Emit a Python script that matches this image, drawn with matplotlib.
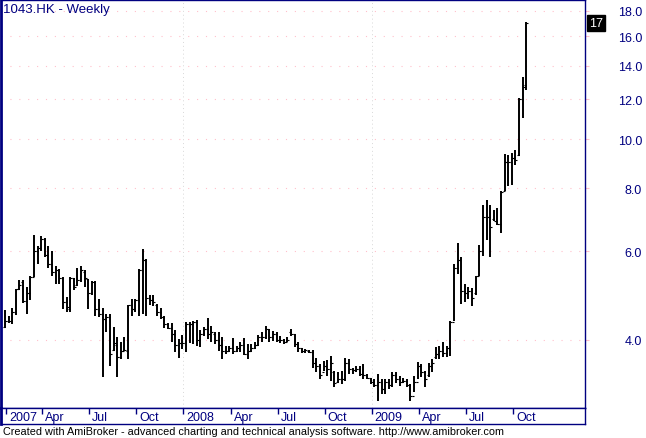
import numpy as np
import pandas as pd
import matplotlib
matplotlib.use("Agg")
import matplotlib.pyplot as plt
import matplotlib.transforms as mtransforms
from matplotlib.ticker import NullLocator

plt.rcParams['font.family'] = ['Liberation Sans', 'DejaVu Sans']

# weekly OHLC for 1043.HK, Jan 2007 - Oct 2009
highs = [4.58, 4.46, 4.63, 5.05, 5.26, 5.26, 5.10, 5.36, 6.45, 6.13,
         6.42, 6.36, 6.13, 6.00, 5.60, 5.54, 5.33, 4.87, 5.33, 5.31,
         5.56, 5.60, 5.50, 5.29, 5.24, 5.24, 4.83, 4.63, 4.51, 4.51,
         4.25, 4.06, 3.96, 4.06, 4.70, 4.83, 4.83, 5.54, 6.05, 5.80,
         4.90, 4.90, 4.72, 4.63, 4.46, 4.33, 4.32, 4.18, 4.02, 4.09,
         4.34, 4.34, 4.36, 4.38, 4.19, 4.25, 4.42, 4.27, 4.15, 4.15,
         4.06, 3.89, 3.89, 4.04, 3.89, 3.96, 4.04, 3.93, 3.93, 3.96,
         4.09, 4.15, 4.27, 4.21, 4.17, 4.15, 4.07, 4.02, 4.06, 4.21,
         4.11, 3.96, 3.86, 3.84, 3.82, 3.82, 3.69, 3.58, 3.63, 3.65,
         3.72, 3.47, 3.45, 3.47, 3.69, 3.67, 3.52, 3.55, 3.55, 3.58,
         3.43, 3.36, 3.34, 3.42, 3.34, 3.34, 3.35, 3.45, 3.45, 3.39,
         3.36, 3.34, 3.27, 3.39, 3.61, 3.58, 3.47, 3.60, 3.67, 3.87,
         3.89, 3.96, 3.89, 4.36, 5.67, 6.24, 5.85, 5.17, 5.10, 5.08,
         5.36, 6.18, 7.40, 7.57, 7.40, 7.24, 7.30, 7.89, 9.35, 9.30,
         9.39, 9.52, 12.10, 13.30, 17.12]
lows = [4.23, 4.33, 4.31, 4.49, 5.03, 4.74, 4.51, 4.79, 5.33, 5.67,
        6.00, 5.83, 5.56, 5.36, 5.17, 5.17, 4.61, 4.55, 4.55, 5.03,
        5.12, 5.22, 5.10, 4.61, 4.90, 4.46, 4.44, 3.37, 4.15, 3.55,
        3.80, 3.37, 3.67, 3.80, 3.67, 4.46, 4.55, 4.46, 4.50, 4.46,
        4.69, 4.67, 4.46, 4.40, 4.23, 4.20, 3.96, 3.78, 3.68, 3.84,
        3.78, 3.95, 3.93, 3.89, 3.87, 4.07, 4.02, 3.96, 3.93, 3.80,
        3.67, 3.75, 3.78, 3.75, 3.78, 3.78, 3.73, 3.67, 3.78, 3.84,
        3.89, 3.96, 4.02, 3.96, 3.98, 3.96, 3.95, 3.93, 3.96, 4.07,
        3.87, 3.78, 3.77, 3.77, 3.77, 3.51, 3.45, 3.34, 3.47, 3.39,
        3.32, 3.22, 3.29, 3.27, 3.32, 3.42, 3.42, 3.45, 3.39, 3.34,
        3.34, 3.27, 3.22, 3.02, 3.12, 3.12, 3.19, 3.22, 3.29, 3.24,
        3.29, 3.22, 3.03, 3.15, 3.34, 3.37, 3.22, 3.37, 3.45, 3.67,
        3.67, 3.70, 3.70, 3.72, 4.36, 5.41, 4.72, 4.76, 4.83, 4.68,
        4.92, 5.36, 5.88, 6.30, 5.85, 6.90, 6.76, 6.51, 7.89, 8.07,
        8.10, 8.88, 9.26, 11.02, 12.54]
opens = [4.24, 4.36, 4.36, 4.55, 5.05, 5.20, 4.78, 4.95, 5.33, 6.00,
         6.10, 6.35, 5.90, 5.65, 5.45, 5.50, 5.30, 4.75, 4.60, 5.30,
         5.15, 5.25, 5.45, 5.29, 4.95, 5.20, 4.60, 4.50, 4.40, 4.45,
         3.82, 3.90, 3.70, 3.80, 3.80, 4.70, 4.60, 4.80, 5.50, 5.75,
         4.85, 4.80, 4.70, 4.55, 4.45, 4.30, 4.22, 4.10, 3.90, 3.95,
         3.95, 4.30, 4.30, 4.35, 4.00, 4.10, 4.20, 4.10, 4.10, 4.00,
         3.90, 3.80, 3.80, 3.85, 3.80, 3.85, 3.90, 3.75, 3.80, 3.85,
         3.90, 4.05, 4.05, 4.20, 4.05, 4.10, 4.00, 4.00, 3.96, 4.15,
         4.10, 3.92, 3.85, 3.80, 3.80, 3.79, 3.60, 3.55, 3.45, 3.55,
         3.50, 3.45, 3.30, 3.35, 3.35, 3.60, 3.50, 3.48, 3.50, 3.42,
         3.40, 3.36, 3.30, 3.25, 3.30, 3.20, 3.30, 3.25, 3.40, 3.35,
         3.30, 3.32, 3.25, 3.10, 3.30, 3.55, 3.45, 3.40, 3.55, 3.70,
         3.75, 3.80, 3.76, 3.85, 4.35, 5.55, 5.75, 5.00, 4.95, 5.00,
         4.95, 5.35, 6.00, 7.00, 7.00, 6.95, 6.90, 6.80, 7.89, 9.00,
         9.00, 9.20, 9.30, 12.00, 12.80]
closes = [4.37, 4.36, 4.55, 5.05, 5.15, 4.78, 4.95, 5.33, 6.00, 6.10,
          6.35, 5.90, 5.65, 5.45, 5.50, 5.30, 4.75, 4.65, 5.30, 5.10,
          5.25, 5.50, 5.30, 4.95, 5.20, 4.60, 4.50, 4.40, 4.45, 3.75,
          3.95, 3.70, 3.80, 3.82, 4.70, 4.60, 4.80, 5.50, 5.75, 4.85,
          4.80, 4.75, 4.55, 4.45, 4.30, 4.22, 4.10, 3.90, 3.95, 3.95,
          4.30, 4.30, 4.35, 4.00, 4.10, 4.20, 4.10, 4.15, 4.00, 3.90,
          3.80, 3.80, 3.85, 3.80, 3.85, 3.90, 3.75, 3.80, 3.85, 3.90,
          4.05, 4.05, 4.20, 4.05, 4.10, 4.00, 4.00, 3.96, 4.00, 4.10,
          3.92, 3.85, 3.80, 3.82, 3.79, 3.60, 3.55, 3.40, 3.55, 3.50,
          3.60, 3.28, 3.35, 3.35, 3.60, 3.50, 3.48, 3.50, 3.42, 3.40,
          3.36, 3.30, 3.25, 3.30, 3.20, 3.30, 3.25, 3.40, 3.35, 3.30,
          3.32, 3.25, 3.10, 3.30, 3.55, 3.45, 3.35, 3.55, 3.60, 3.75,
          3.80, 3.76, 3.85, 4.35, 5.55, 5.75, 5.00, 4.95, 5.00, 4.85,
          5.35, 6.00, 7.00, 7.00, 6.70, 6.90, 6.80, 7.85, 9.00, 9.00,
          9.20, 9.10, 12.00, 12.70, 17.00]

weeks = pd.date_range("2007-01-26", periods=len(highs), freq="W-FRI")
price_ticks = [4, 6, 8, 10, 12, 14, 16, 18]
title = "1043.HK - Weekly"
footer = ("Created with AmiBroker - advanced charting and technical analysis "
          "software. http://www.amibroker.com")

NAVY = "#000080"
W, H = 646, 439

fig = plt.figure(figsize=(W / 100, H / 100), dpi=100)
fig.patch.set_facecolor("white")

ax = fig.add_axes([1 / W, 30 / H, 584 / W, 408 / H])
ax2 = fig.add_axes([1 / W, 14 / H, 584 / W, 16 / H])

x = np.arange(len(highs))
xlim = (-1.1, 160.2)

# bars: high-low line, open tick left, close tick right
ax.vlines(x, lows, highs, color="black", linewidth=1.4)
ax.hlines(opens, x - 0.55, x, color="black", linewidth=0.8)
ax.hlines(closes, x, x + 0.55, color="black", linewidth=0.8)

ax.set_yscale("log")
ax.set_ylim(2.93, 18.9)
ax.set_xlim(*xlim)
ax.yaxis.set_minor_locator(NullLocator())
ax.yaxis.tick_right()
ax.set_yticks(price_ticks)
ax.set_yticklabels(["%.1f" % v for v in price_ticks])
ax.tick_params(axis="y", which="major", direction="out", length=3,
               color="#ffc0cb", labelcolor=NAVY, labelsize=9, pad=38)
for lab in ax.get_yticklabels():
    lab.set_horizontalalignment("right")
ax.tick_params(axis="x", bottom=False, labelbottom=False)
ax.grid(axis="y", color="#ffc0cb", linestyle=(0, (1, 7)), linewidth=0.8)

# quarter ticks on the date strip
tick_pos, tick_lab = [], []
for i, d in enumerate(weeks):
    if i == 0 or (d.month in (1, 4, 7, 10) and weeks[i - 1].month != d.month):
        tick_pos.append(i + 0.3)
        tick_lab.append(str(d.year) if d.month == 1 else d.strftime("%b"))

for p, l in zip(tick_pos, tick_lab):
    if l.isdigit() and p > 1:
        ax.axvline(p, color="#d8d8d8", linestyle=(0, (1, 3)), linewidth=0.7)

for s in ax.spines.values():
    s.set_color(NAVY)
    s.set_linewidth(1.0)
ax.spines["left"].set_linewidth(2.0)

ax2.set_xlim(*xlim)
ax2.set_ylim(0, 1)
ax2.set_yticks([])
ax2.set_xticks(tick_pos)
ax2.tick_params(axis="x", bottom=False, top=True, labelbottom=False,
                direction="in", length=4, color=NAVY, width=1)
off = mtransforms.offset_copy(ax2.transData, fig=fig, x=3, y=0, units="dots")
blend = mtransforms.blended_transform_factory(off, ax2.transAxes)
for p, l in zip(tick_pos, tick_lab):
    ax2.text(p, 0.42, l, transform=blend, ha="left", va="center",
             color=NAVY, fontsize=9)
for s in ax2.spines.values():
    s.set_color(NAVY)
    s.set_linewidth(1.0)
ax2.spines["left"].set_linewidth(2.0)

# last close marker on the right axis
ax.annotate("%.0f" % closes[-1], xy=(1.0, closes[-1]),
            xycoords=ax.get_yaxis_transform(), xytext=(3, 0),
            textcoords="offset points", ha="left", va="center",
            color="white", fontsize=9, annotation_clip=False,
            bbox=dict(boxstyle="square,pad=0.15", facecolor="black",
                      edgecolor="black"))

fig.text(3 / W, 1 - 10 / H, title, color=NAVY, fontsize=9.5, va="center",
         ha="left")
fig.text(3 / W, 1 - 432 / H, footer, color="black", fontsize=7.8,
         va="center", ha="left")

fig.savefig("out.png", dpi=100)
